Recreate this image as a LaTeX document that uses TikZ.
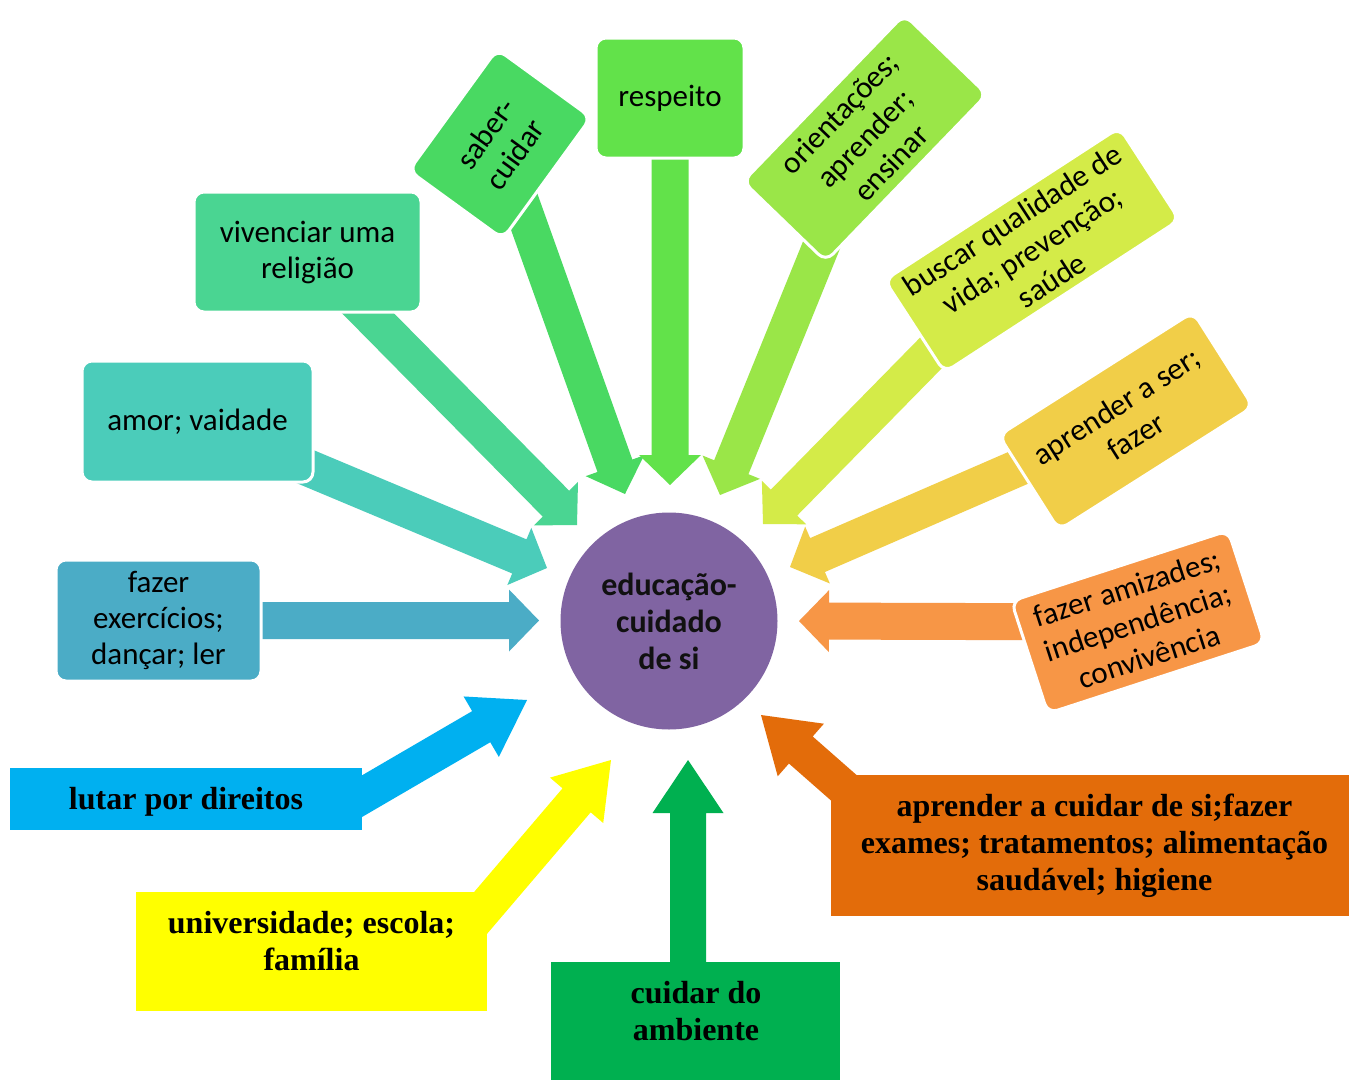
\documentclass[tikz,border=0pt]{standalone}
\usepackage{fontspec}
\usetikzlibrary{calc}
\newfontfamily\carlito{Carlito}
\newfontfamily\tnr{Liberation Serif}
\definecolor{c0}{HTML}{8064A2}
\definecolor{c1}{HTML}{4BACC6}
\definecolor{c2}{HTML}{4BCCBA}
\definecolor{c3}{HTML}{4AD592}
\definecolor{c4}{HTML}{49D962}
\definecolor{c5}{HTML}{62E24A}
\definecolor{c6}{HTML}{9AE648}
\definecolor{c7}{HTML}{D4EB48}
\definecolor{c8}{HTML}{F1CE48}
\definecolor{c9}{HTML}{F79646}
\definecolor{cblue}{HTML}{00B0F0}
\definecolor{cyel}{HTML}{FFFF00}
\definecolor{cgreen}{HTML}{00B050}
\definecolor{corange}{HTML}{E36C0A}
\definecolor{ctxt}{HTML}{111111}
\pgfdeclarelayer{back}
\pgfdeclarelayer{bg}
\pgfsetlayers{back,bg,main}
\tikzset{
  tbox/.style={rounded corners=10pt, draw=white, line width=3pt, align=center,
    inner sep=0pt, font=\carlito\fontsize{31}{36}\selectfont, text=black},
  bbox/.style={inner sep=0pt, draw=none, minimum width=#1},
  btext/.style={align=center, inner sep=0pt,
    font=\tnr\bfseries\fontsize{32}{37}\selectfont, text=black},
  hub/.style={circle, fill=c0, inner sep=0pt, minimum size=217pt, align=center,
    font=\carlito\bfseries\fontsize{32}{37}\selectfont, text=ctxt}
}
% start, tip, colour, shaft half width, head half width, head length
\newcommand{\fatarrow}[6]{%
  \coordinate (fah) at ($(#2)!#6!(#1)$);
  \fill[#3] ($(#1)!#4!90:(#2)$) -- ($(fah)!#4!-90:(#1)$) -- ($(fah)!#5!-90:(#1)$)
    -- (#2) -- ($(fah)!#5!90:(#1)$) -- ($(fah)!#4!90:(#1)$) -- ($(#1)!#4!-90:(#2)$) -- cycle;
}
\begin{document}
\begin{tikzpicture}[x=1pt,y=-1pt]
\begin{pgfonlayer}{back}
\fill[white] (0,0) rectangle (1349,1079);
\end{pgfonlayer}
\useasboundingbox (0,0) rectangle (1349,1079);

% hub
\node[hub] (hub) at (669,621) {educação-\\cuidado\\de si};

% upper boxes
\node[tbox, fill=c1, minimum width=205pt, minimum height=121pt] (ex) at (158.5,620.5) {fazer\\exercícios;\\dançar; ler};
\node[tbox, fill=c2, minimum width=231pt, minimum height=121pt] (am) at (197.5,421.5) {amor; vaidade};
\node[tbox, fill=c3, minimum width=227pt, minimum height=120pt] (vi) at (307.5,252) {vivenciar uma\\religião};
\node[tbox, fill=c4, minimum width=150pt, minimum height=116pt, rotate=54] (sa) at (500,144) {saber-\\cuidar};
\node[tbox, fill=c5, minimum width=148pt, minimum height=120pt] (re) at (670,98) {respeito};
\node[tbox, fill=c6, minimum width=232pt, minimum height=115pt, rotate=46] (or) at (865,138) {orientações;\\aprender;\\ensinar};
\node[tbox, fill=c7, minimum width=280pt, minimum height=110pt, rotate=33] (bu) at (1032,250) {buscar qualidade de\\vida; prevenção;\\saúde};
\node[tbox, fill=c8, minimum width=230pt, minimum height=112pt, rotate=32.4] (ap) at (1126,421) {aprender a ser;\\fazer};
\node[tbox, fill=c9, minimum width=228pt, minimum height=118pt, rotate=18] (az) at (1138,622) {fazer amizades;\\independência;\\convivência};

% tips of upper arrows
\coordinate (tex) at (539,620.5);
\coordinate (tam) at (547,568);
\coordinate (tvi) at (577,525);
\coordinate (tsa) at (625,494);
\coordinate (tre) at (670,485);
\coordinate (tor) at (720,495);
\coordinate (tbu) at (763,524);
\coordinate (tap) at (790,567);
\coordinate (taz) at (799,621);

% lower boxes
\node[bbox=352pt, fill=cblue, minimum height=62pt] (lu) at (186,799) {};
\node[btext] (lut) at (186,802) {lutar por direitos};
\node[bbox=351pt, fill=cyel, minimum height=119pt] (un) at (311.5,951.5) {};
\node[btext] (unt) at (311.5,941.5) {universidade; escola;\\família};
\node[bbox=289pt, fill=cgreen, minimum height=118pt] (cu) at (695.5,1021) {};
\node[btext] (cut) at (696,1011) {cuidar do\\ambiente};
\node[bbox=518pt, fill=corange, minimum height=141pt] (ac) at (1090,845.5) {};
\node[btext] (act) at (1094.5,846) {aprender a cuidar de si;fazer\\exames; tratamentos; alimentação\\saudável; higiene};

% start and tip points of lower arrows
\coordinate (slu) at (340,809);
\coordinate (tlu) at (527,700);
\coordinate (sun) at (466,930);
\coordinate (tun) at (611,760);
\coordinate (scu) at (688,1000);
\coordinate (tcu) at (688,760);
\coordinate (sac) at (860,802);
\coordinate (tac) at (761,715);

\begin{pgfonlayer}{bg}
\fatarrow{ex.center}{tex}{c1}{18.5pt}{31pt}{30pt}
\fatarrow{am.center}{tam}{c2}{18.5pt}{31pt}{30pt}
\fatarrow{vi.center}{tvi}{c3}{18.5pt}{31pt}{30pt}
\fatarrow{sa.center}{tsa}{c4}{18.5pt}{31pt}{30pt}
\fatarrow{re.center}{tre}{c5}{18.5pt}{31pt}{30pt}
\fatarrow{or.center}{tor}{c6}{18.5pt}{31pt}{30pt}
\fatarrow{bu.center}{tbu}{c7}{18.5pt}{31pt}{30pt}
\fatarrow{ap.center}{tap}{c8}{18.5pt}{31pt}{30pt}
\fatarrow{az.center}{taz}{c9}{18.5pt}{31pt}{30pt}
\fatarrow{slu}{tlu}{cblue}{18pt}{35pt}{53pt}
\fatarrow{sun}{tun}{cyel}{18.5pt}{35pt}{53pt}
\fatarrow{scu}{tcu}{cgreen}{18pt}{35.5pt}{53pt}
\fatarrow{sac}{tac}{corange}{18pt}{35pt}{53pt}
\end{pgfonlayer}
\end{tikzpicture}
\end{document}
